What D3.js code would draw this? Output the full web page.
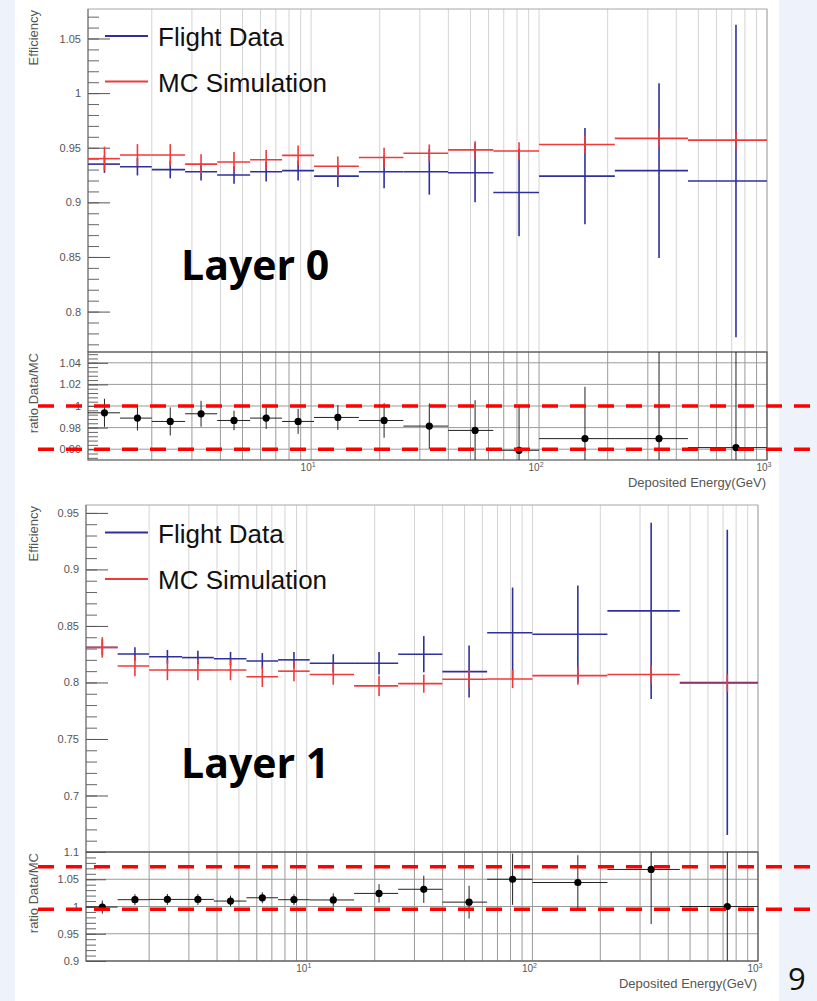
<!DOCTYPE html>
<html>
<head>
<meta charset="utf-8">
<script src="https://cdn.jsdelivr.net/npm/d3@7"></script>
<style>
body { margin: 0; background: #eef3fb; }
svg { display: block; }
text { font-family: "Liberation Sans", Arial, sans-serif; }
</style>
</head>
<body>
<script>
/* layer efficiency: flight data vs MC, with data/MC ratio */

// energy bins (GeV), edges and marker positions
var binEdges = [1.05, 1.45, 2.0, 2.8, 3.87, 5.4, 7.46, 10.3, 16.2, 25.4, 39.9, 63, 100, 215, 450, 1000];
var binCenters = [1.24, 1.73, 2.41, 3.29, 4.59, 6.35, 8.77, 13.1, 20.9, 33.0, 52.4, 81.7, 159, 336, 731];

// Layer 0
var flight0 = [0.935, 0.9326, 0.930, 0.928, 0.925, 0.928, 0.929, 0.924, 0.928, 0.928, 0.9271, 0.909, 0.924, 0.929, 0.9196];
var flight0Err = [0.008, 0.008, 0.008, 0.008, 0.008, 0.009, 0.009, 0.010, 0.015, 0.021, 0.027, 0.040, 0.044, 0.080, 0.143];
var mc0 = [0.940, 0.9433, 0.9433, 0.935, 0.937, 0.939, 0.943, 0.933, 0.941, 0.945, 0.948, 0.947, 0.953, 0.9586, 0.957];
var mc0Err = [0.011, 0.010, 0.010, 0.009, 0.009, 0.009, 0.009, 0.009, 0.009, 0.008, 0.008, 0.008, 0.008, 0.008, 0.008];
var ratio0 = [0.9937, 0.9888, 0.9857, 0.9928, 0.9866, 0.9888, 0.9857, 0.9894, 0.9866, 0.9814, 0.9774, 0.959, 0.9698, 0.9698, 0.9615];
var ratio0Err = [0.013, 0.0115, 0.013, 0.012, 0.009, 0.010, 0.0115, 0.0115, 0.016, 0.021, 0.028, 0.041, 0.048, 0.10, 0.15];

// Layer 1
var flight1 = [0.831, 0.8252, 0.8228, 0.822, 0.821, 0.819, 0.820, 0.817, 0.817, 0.825, 0.8096, 0.844, 0.8427, 0.8633, 0.800];
var flight1Err = [0.007, 0.006, 0.006, 0.006, 0.006, 0.007, 0.007, 0.008, 0.010, 0.016, 0.023, 0.040, 0.043, 0.078, 0.135];
var mc1 = [0.831, 0.8146, 0.811, 0.811, 0.811, 0.805, 0.810, 0.807, 0.797, 0.799, 0.8028, 0.803, 0.806, 0.807, 0.7993];
var mc1Err = [0.009, 0.009, 0.009, 0.009, 0.009, 0.009, 0.009, 0.009, 0.009, 0.008, 0.008, 0.008, 0.008, 0.008, 0.008];
var ratio1 = [0.999, 1.0125, 1.013, 1.013, 1.010, 1.016, 1.0125, 1.012, 1.024, 1.0316, 1.008, 1.050, 1.044, 1.068, 1.0];
var ratio1Err = [0.012, 0.010, 0.010, 0.010, 0.010, 0.010, 0.010, 0.012, 0.017, 0.025, 0.030, 0.047, 0.050, 0.10, 0.25];

// tick labels
var effTicks0 = [0.8, 0.85, 0.9, 0.95, 1, 1.05];
var ratioTicks0 = [0.96, 0.98, 1, 1.02, 1.04];
var effTicks1 = [0.7, 0.75, 0.8, 0.85, 0.9, 0.95];
var ratioTicks1 = [0.9, 0.95, 1, 1.05, 1.1];

var seriesNames = ["Flight Data", "MC Simulation"];
var layerNames = ["Layer 0", "Layer 1"];

// hand drawn red dashed guide lines (ratio values)
var refLines0 = [1.0, 0.96];
var refLines1 = [1.073, 0.995];

var blue = "#30309c";
var red = "#f03a3a";

var svg = d3.select("body").append("svg")
    .attr("width", 817)
    .attr("height", 1001);

svg.append("rect").attr("width", 817).attr("height", 1001).attr("fill", "#eef3fb");
svg.append("rect").attr("x", 15).attr("width", 764).attr("height", 1001).attr("fill", "#ffffff");

drawLayer({
	id: 0, left: 88, right: 767, top: 9, mid: 352, bottom: 460,
	effDomain: [0.763, 1.077], effTicks: effTicks0, effMinor: 0.01,
	ratioDomain: [0.95, 1.05], ratioTicks: ratioTicks0, ratioMinor: 0.004,
	flight: flight0, flightErr: flight0Err, mc: mc0, mcErr: mc0Err,
	ratio: ratio0, ratioErr: ratio0Err, refLines: refLines0,
	legendY: [36, 81.5], textY: [46, 91.5], layerY: 280, name: layerNames[0]
});

drawLayer({
	id: 1, left: 86, right: 758, top: 505, mid: 852, bottom: 961,
	effDomain: [0.65, 0.957], effTicks: effTicks1, effMinor: 0.01,
	ratioDomain: [0.9, 1.1], ratioTicks: ratioTicks1, ratioMinor: 0.01,
	flight: flight1, flightErr: flight1Err, mc: mc1, mcErr: mc1Err,
	ratio: ratio1, ratioErr: ratio1Err, refLines: refLines1,
	legendY: [532.5, 579], textY: [542.5, 589], layerY: 778, name: layerNames[1]
});

// slide page number
svg.append("text")
	.attr("x", 788).attr("y", 990)
	.style("font-family", "'Open Sans', sans-serif")
	.style("font-size", "31px")
	.attr("fill", "#111")
	.text("9");

function minorTicks(domain, step) {
	var start = Math.ceil(domain[0] / step) * step;
	return d3.range(start, domain[1] + 1e-9, step);
}

function drawErrors(g, x, y, vals, errs, color, width) {
	g.selectAll(null)
		.data(vals)
		.enter()
		.append("line")
		.attr("x1", function(d, i) { return x(binEdges[i]); })
		.attr("x2", function(d, i) { return x(binEdges[i + 1]); })
		.attr("y1", function(d) { return y(d); })
		.attr("y2", function(d) { return y(d); })
		.attr("stroke", color)
		.attr("stroke-width", width);
	g.selectAll(null)
		.data(vals)
		.enter()
		.append("line")
		.attr("x1", function(d, i) { return x(binCenters[i]); })
		.attr("x2", function(d, i) { return x(binCenters[i]); })
		.attr("y1", function(d, i) { return y(d - errs[i]); })
		.attr("y2", function(d, i) { return y(d + errs[i]); })
		.attr("stroke", color)
		.attr("stroke-width", width);
}

function drawYAxis(g, c, y, ticks, minorStep, majorLen, minorLen, fmt) {
	g.append("g")
		.attr("transform", "translate(" + c.left + ",0)")
		.call(d3.axisRight(y).tickValues(minorTicks(y.domain(), minorStep)).tickSize(minorLen).tickFormat(""))
		.call(function(a) { a.select(".domain").remove(); a.selectAll("line").attr("stroke", "#666"); });
	g.append("g")
		.attr("transform", "translate(" + c.left + ",0)")
		.call(d3.axisRight(y).tickValues(ticks).tickSize(majorLen).tickFormat(""))
		.call(function(a) { a.select(".domain").remove(); a.selectAll("line").attr("stroke", "#555"); });
	g.append("g")
		.attr("transform", "translate(" + c.left + ",0)")
		.call(d3.axisLeft(y).tickValues(ticks).tickSize(0).tickPadding(7).tickFormat(fmt))
		.call(function(a) {
			a.select(".domain").remove();
			a.selectAll("text").style("font-size", "11px").style("font-family", "'Liberation Sans', Arial").attr("fill", "#555");
		});
}

function drawLayer(c) {
	var g = svg.append("g");

	var x = d3.scaleLog().domain([binEdges[0], binEdges[binEdges.length - 1]]).range([c.left, c.right]);
	var yEff = d3.scaleLinear().domain(c.effDomain).range([c.mid, c.top]);
	var yRat = d3.scaleLinear().domain(c.ratioDomain).range([c.bottom, c.mid]);
	var fmt = function(d) { return d3.format("~g")(d); };

	// clip paths
	var defs = g.append("defs");
	defs.append("clipPath").attr("id", "clipE" + c.id).append("rect")
		.attr("x", c.left).attr("y", c.top).attr("width", c.right - c.left).attr("height", c.mid - c.top);
	defs.append("clipPath").attr("id", "clipR" + c.id).append("rect")
		.attr("x", c.left).attr("y", c.mid).attr("width", c.right - c.left).attr("height", c.bottom - c.mid);

	// ---- efficiency pad ----
	g.selectAll(null)
		.data(x.ticks())
		.enter()
		.append("line")
		.attr("x1", function(d) { return x(d); })
		.attr("x2", function(d) { return x(d); })
		.attr("y1", c.top).attr("y2", c.mid)
		.attr("stroke", "#d4d4d4");

	g.append("rect")
		.attr("x", c.left).attr("y", c.top)
		.attr("width", c.right - c.left).attr("height", c.mid - c.top)
		.attr("fill", "none").attr("stroke", "#a8a8a8");

	drawYAxis(g, c, yEff, c.effTicks, c.effMinor, 22, 11, fmt);

	g.append("line")
		.attr("x1", c.left).attr("x2", c.left)
		.attr("y1", c.top).attr("y2", c.mid)
		.attr("stroke", "#666");

	var pe = g.append("g").attr("clip-path", "url(#clipE" + c.id + ")");
	drawErrors(pe, x, yEff, c.flight, c.flightErr, blue, 1.6);
	drawErrors(pe, x, yEff, c.mc, c.mcErr, red, 1.6);

	g.append("text")
		.attr("transform", "translate(38," + (c.top + 1) + ") rotate(-90)")
		.attr("text-anchor", "end")
		.style("font-size", "13px")
		.attr("fill", "#555")
		.text("Efficiency");

	// legend
	var legColors = [blue, red];
	g.selectAll(null)
		.data(seriesNames)
		.enter()
		.append("line")
		.attr("x1", 105).attr("x2", 148)
		.attr("y1", function(d, i) { return c.legendY[i]; })
		.attr("y2", function(d, i) { return c.legendY[i]; })
		.attr("stroke", function(d, i) { return legColors[i]; })
		.attr("stroke-width", 2);
	g.selectAll(null)
		.data(seriesNames)
		.enter()
		.append("text")
		.attr("x", 158)
		.attr("y", function(d, i) { return c.textY[i]; })
		.style("font-size", "26px")
		.attr("fill", "#111")
		.text(function(d) { return d; });

	g.append("text")
		.attr("x", 181).attr("y", c.layerY)
		.style("font-family", "'Open Sans', sans-serif")
		.style("font-weight", "bold")
		.style("font-size", "41px")
		.attr("fill", "#000")
		.text(c.name);

	// ---- ratio pad ----
	g.selectAll(null)
		.data(x.ticks())
		.enter()
		.append("line")
		.attr("x1", function(d) { return x(d); })
		.attr("x2", function(d) { return x(d); })
		.attr("y1", c.mid).attr("y2", c.bottom)
		.attr("stroke", "#9a9a9a");
	g.selectAll(null)
		.data(c.ratioTicks)
		.enter()
		.append("line")
		.attr("x1", c.left).attr("x2", c.right)
		.attr("y1", function(d) { return yRat(d); })
		.attr("y2", function(d) { return yRat(d); })
		.attr("stroke", "#9a9a9a");

	g.append("rect")
		.attr("x", c.left).attr("y", c.mid)
		.attr("width", c.right - c.left).attr("height", c.bottom - c.mid)
		.attr("fill", "none").attr("stroke", "#555").attr("stroke-width", 1.2);

	drawYAxis(g, c, yRat, c.ratioTicks, c.ratioMinor, 20, 10, fmt);

	var pr = g.append("g").attr("clip-path", "url(#clipR" + c.id + ")");
	drawErrors(pr, x, yRat, c.ratio, c.ratioErr, "#222", 1);
	pr.selectAll("circle")
		.data(c.ratio)
		.enter()
		.append("circle")
		.attr("cx", function(d, i) { return x(binCenters[i]); })
		.attr("cy", function(d) { return yRat(d); })
		.attr("r", 3.6)
		.attr("fill", "#000");

	g.append("text")
		.attr("transform", "translate(38," + (c.mid + 1) + ") rotate(-90)")
		.attr("text-anchor", "end")
		.style("font-size", "13px")
		.attr("fill", "#555")
		.text("ratio Data/MC");

	// decade labels 10^n
	var decades = x.ticks().filter(function(d) { return Math.abs(Math.log10(d) - Math.round(Math.log10(d))) < 1e-9; });
	var lab = g.selectAll(null)
		.data(decades)
		.enter()
		.append("text")
		.attr("x", function(d) { return x(d) - 3; })
		.attr("y", c.bottom + 11)
		.attr("text-anchor", "middle")
		.style("font-size", "10px")
		.attr("fill", "#555");
	lab.append("tspan").text("10");
	lab.append("tspan")
		.attr("dy", -4)
		.style("font-size", "7px")
		.text(function(d) { return Math.round(Math.log10(d)); });

	g.append("text")
		.attr("x", c.right - 1).attr("y", c.bottom + 27)
		.attr("text-anchor", "end")
		.style("font-size", "13px")
		.attr("fill", "#555")
		.text("Deposited Energy(GeV)");

	// red dashed guide lines drawn on top
	g.selectAll(null)
		.data(c.refLines)
		.enter()
		.append("line")
		.attr("x1", 38).attr("x2", 810)
		.attr("y1", function(d) { return yRat(d); })
		.attr("y2", function(d) { return yRat(d); })
		.attr("stroke", "#ff0000")
		.attr("stroke-width", 3.5)
		.attr("stroke-dasharray", "16,12");
}
</script>
</body>
</html>
